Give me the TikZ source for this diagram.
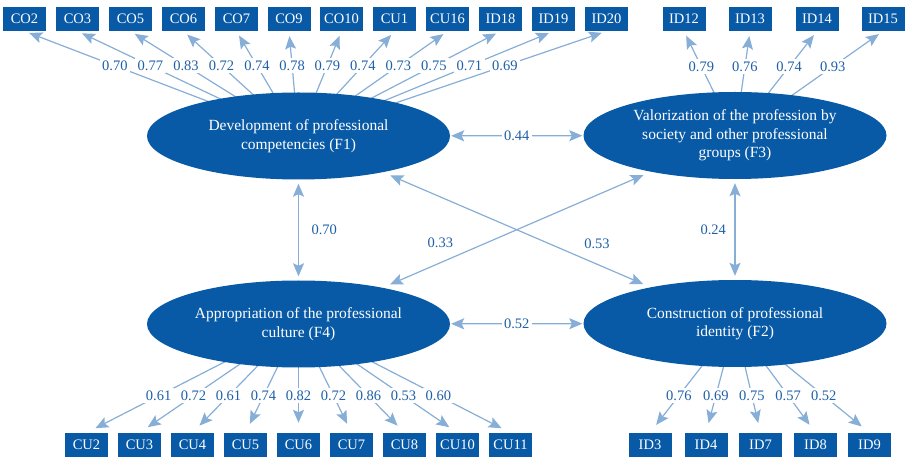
\documentclass[tikz,border=0pt]{standalone}
\usepackage{fontspec}
\setmainfont{Liberation Serif}
\usetikzlibrary{arrows.meta,shapes.geometric,backgrounds}
\definecolor{factorblue}{RGB}{8,90,166}
\definecolor{pathblue}{RGB}{134,174,214}
\definecolor{numblue}{RGB}{30,96,168}
\begin{document}
\begin{tikzpicture}[x=1pt,y=-1pt,
    factor/.style={ellipse,fill=factorblue,text=white,minimum width=303pt,minimum height=87pt,
      inner sep=0pt,align=center,font=\fontsize{15.5}{18.5}\selectfont},
    item/.style={rectangle,fill=factorblue,text=white,minimum width=43pt,minimum height=24pt,
      inner sep=0pt,font=\fontsize{14.5}{17}\selectfont},
    tip/.tip={Stealth[length=13pt,width=11pt,inset=2.5pt]},
    load/.style={pathblue,line width=1.2pt,-tip},
    corr/.style={pathblue,line width=1.2pt,tip-tip},
    coef/.style={fill=white,text=numblue,inner sep=2.5pt,font=\fontsize{14.5}{17}\selectfont}]
  \useasboundingbox (0,0) rectangle (905,462);
  \draw
    (298.5,136) node[factor] (F1) {Development of professional\\competencies (F1)}
    (735,135.5) node[factor] (F3) {Valorization of the profession by\\society and other professional\\groups (F3)}
    (298.5,324) node[factor] (F4) {Appropriation of the professional\\culture (F4)}
    (735,323.5) node[factor] (F2) {Construction of professional\\identity (F2)};
  \draw
    (24.5,19) node[item] (CO2) {CO2}
    (77.5,19) node[item] (CO3) {CO3}
    (130.5,19) node[item] (CO5) {CO5}
    (183.5,19) node[item] (CO6) {CO6}
    (236.5,19) node[item] (CO7) {CO7}
    (289,19) node[item] (CO9) {CO9}
    (341.5,19) node[item] (CO10) {CO10}
    (394.5,19) node[item] (CU1) {CU1}
    (447.5,19) node[item] (CU16) {CU16}
    (500.5,19) node[item] (ID18) {ID18}
    (553.5,19) node[item] (ID19) {ID19}
    (606.5,19) node[item] (ID20) {ID20}
    (684,19) node[item] (ID12) {ID12}
    (750,19) node[item] (ID13) {ID13}
    (817,19) node[item] (ID14) {ID14}
    (883,19) node[item] (ID15) {ID15};
  \draw
    (86.5,445) node[item] (CU2) {CU2}
    (139.5,445) node[item] (CU3) {CU3}
    (192.5,445) node[item] (CU4) {CU4}
    (245.5,445) node[item] (CU5) {CU5}
    (298.5,445) node[item] (CU6) {CU6}
    (351.5,445) node[item] (CU7) {CU7}
    (404.5,445) node[item] (CU8) {CU8}
    (457.5,445) node[item] (CU10) {CU10}
    (510.5,445) node[item] (CU11) {CU11}
    (650,445) node[item] (ID3) {ID3}
    (706,445) node[item] (ID4) {ID4}
    (760.5,445) node[item] (ID7) {ID7}
    (815.5,445) node[item] (ID8) {ID8}
    (869.5,445) node[item] (ID9) {ID9};
  % loadings, tails hidden under the factors
  \begin{scope}[on background layer]
  \begin{scope}[load,shorten >=5pt]
    \draw (F1.center) to node[coef,pos=.67] {0.70} (CO2.south);
    \draw (F1.center) to node[coef,pos=.67] {0.77} (CO3.south);
    \draw (F1.center) to node[coef,pos=.67] {0.83} (CO5.south);
    \draw (F1.center) to node[coef,pos=.67] {0.72} (CO6.south);
    \draw (F1.center) to node[coef,pos=.67] {0.74} (CO7.south);
    \draw (F1.center) to node[coef,pos=.67] {0.78} (CO9.south);
    \draw (F1.center) to node[coef,pos=.67] {0.79} (CO10.south);
    \draw (F1.center) to node[coef,pos=.67] {0.74} (CU1.south);
    \draw (F1.center) to node[coef,pos=.67] {0.73} (CU16.south);
    \draw (F1.center) to node[coef,pos=.67] {0.75} (ID18.south);
    \draw (F1.center) to node[coef,pos=.67] {0.71} (ID19.south);
    \draw (F1.center) to node[coef,pos=.67] {0.69} (ID20.south);
    \draw (F3.center) to node[coef,pos=.66] {0.79} (ID12.south);
    \draw (F3.center) to node[coef,pos=.66] {0.76} (ID13.south);
    \draw (F3.center) to node[coef,pos=.66] {0.74} (ID14.south);
    \draw (F3.center) to node[coef,pos=.66] {0.93} (ID15.south);
  \end{scope}
  \begin{scope}[load,shorten >=10pt]
    \draw (F4.center) to node[coef,pos=.66] {0.61} (CU2.north);
    \draw (F4.center) to node[coef,pos=.66] {0.72} (CU3.north);
    \draw (F4.center) to node[coef,pos=.66] {0.61} (CU4.north);
    \draw (F4.center) to node[coef,pos=.66] {0.74} (CU5.north);
    \draw (F4.center) to node[coef,pos=.66] {0.82} (CU6.north);
    \draw (F4.center) to node[coef,pos=.66] {0.72} (CU7.north);
    \draw (F4.center) to node[coef,pos=.66] {0.86} (CU8.north);
    \draw (F4.center) to node[coef,pos=.66] {0.53} (CU10.north);
    \draw (F4.center) to node[coef,pos=.66] {0.60} (CU11.north);
    \draw (F2.center) to node[coef,pos=.66] {0.76} (ID3.north);
    \draw (F2.center) to node[coef,pos=.66] {0.69} (ID4.north);
    \draw (F2.center) to node[coef,pos=.66] {0.75} (ID7.north);
    \draw (F2.center) to node[coef,pos=.66] {0.57} (ID8.north);
    \draw (F2.center) to node[coef,pos=.66] {0.52} (ID9.north);
  \end{scope}
  \end{scope}
  % correlations between factors
  \begin{scope}[corr]
    \draw[shorten <=1pt,shorten >=1pt] (F1) to node[coef] {0.44} (F3);
    \draw[shorten <=1pt,shorten >=1pt] (F4) to node[coef] {0.52} (F2);
    \draw[shorten <=4pt,shorten >=4pt] (F1) to node[coef,fill=none,right=10pt] {0.70} (F4);
    \draw[shorten <=4pt,shorten >=4pt] (F3) to node[coef,fill=none,left=6pt] {0.24} (F2);
    \draw[shorten <=8pt,shorten >=8pt] (F1) to node[coef,fill=none,pos=.8,above=12pt] {0.53} (F2);
    \draw[shorten <=8pt,shorten >=8pt] (F4) to node[coef,fill=none,pos=.215,above=12pt] {0.33} (F3);
  \end{scope}
\end{tikzpicture}
\end{document}
